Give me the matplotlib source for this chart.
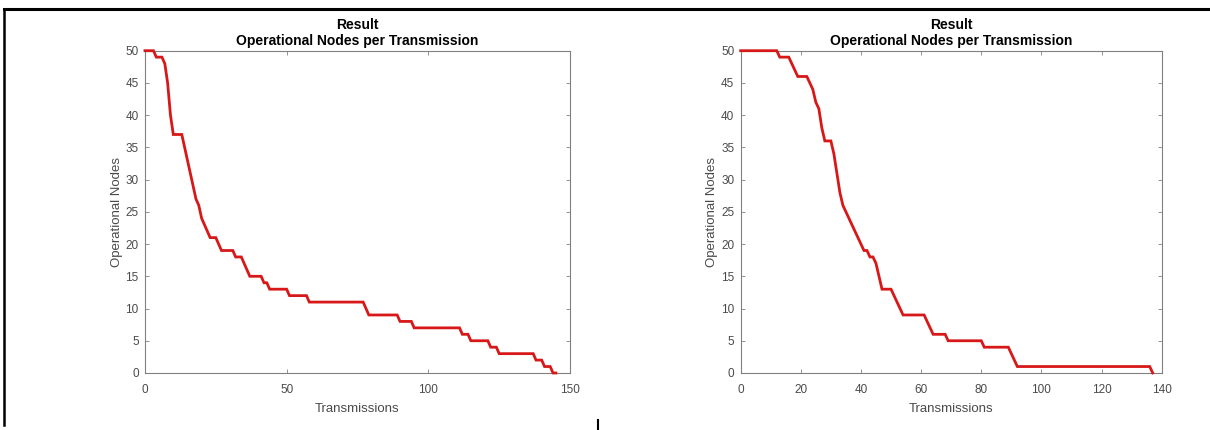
"""
Two-panel 'Operational Nodes per Transmission' result figure.
Output: out.png
"""
import matplotlib.pyplot as plt
from matplotlib.lines import Line2D

OUT = "out.png"

# left run: breakpoints of the (transmission, nodes alive) curve
left_t = [0, 3, 4, 6, 7, 8, 9, 10, 13, 14, 15, 16, 17, 18, 19, 20, 21, 22, 23,
          25, 26, 27, 31, 32, 34, 35, 36, 37, 41, 42, 43, 44, 50, 51, 57, 58,
          77, 78, 79, 89, 90, 94, 95, 111, 112, 114, 115, 121, 122, 124, 125,
          137, 138, 140, 141, 143, 144, 145]
left_nodes = [50, 50, 49, 49, 48, 45, 40, 37, 37, 35, 33, 31, 29, 27, 26, 24,
              23, 22, 21, 21, 20, 19, 19, 18, 18, 17, 16, 15, 15, 14, 14, 13,
              13, 12, 12, 11, 11, 10, 9, 9, 8, 8, 7, 7, 6, 6, 5, 5, 4, 4, 3,
              3, 2, 2, 1, 1, 0, 0]

# right run
right_t = [0, 12, 13, 16, 17, 18, 19, 22, 23, 24, 25, 26, 27, 28, 30, 31, 32,
           33, 34, 35, 36, 37, 38, 39, 40, 41, 42, 43, 44, 45, 46, 47, 50, 51,
           52, 53, 54, 61, 62, 63, 64, 68, 69, 80, 81, 89, 90, 91, 92, 136, 137]
right_nodes = [50, 50, 49, 49, 48, 47, 46, 46, 45, 44, 42, 41, 38, 36, 36, 34,
               31, 28, 26, 25, 24, 23, 22, 21, 20, 19, 19, 18, 18, 17, 15, 13,
               13, 12, 11, 10, 9, 9, 8, 7, 6, 6, 5, 5, 4, 4, 3, 2, 1, 1, 0]

left_xticks = [0, 50, 100, 150]
right_xticks = [0, 20, 40, 60, 80, 100, 120, 140]
yticks = list(range(0, 55, 5))

plt.rcParams["font.family"] = ["Liberation Sans", "DejaVu Sans"]

GREY = "#808080"
TXT = "#4a4a4a"


def panel(ax, t, nodes, xmax, xticks):
    ax.plot(t, nodes, color="#d81818", linewidth=2.0, solid_joinstyle="miter",
            clip_on=False, zorder=3)
    ax.set_xlim(0, xmax)
    ax.set_ylim(0, 50)
    ax.set_xticks(xticks)
    ax.set_yticks(yticks)
    ax.tick_params(direction="in", length=3, width=0.6, colors=GREY,
                   labelcolor=TXT, labelsize=8.5, top=True, right=True)
    ax.tick_params(axis="x", pad=8)
    ax.tick_params(axis="y", pad=4.5)
    for s in ax.spines.values():
        s.set_color(GREY)
        s.set_linewidth(0.8)
    ax.set_title("Result\nOperational Nodes per Transmission",
                 fontsize=10, fontweight="bold", pad=4, linespacing=1.2)
    ax.set_xlabel("Transmissions", fontsize=9.5, color=TXT, labelpad=5)
    ax.set_ylabel("Operational Nodes", fontsize=9.5, color=TXT, labelpad=2)


def main():
    fig = plt.figure(figsize=(12.1, 4.3), dpi=100)
    ax1 = fig.add_axes([0.1198, 0.1326, 0.3513, 0.7495])
    ax2 = fig.add_axes([0.6121, 0.1326, 0.3480, 0.7495])
    panel(ax1, left_t, left_nodes, 150, left_xticks)
    panel(ax2, right_t, right_nodes, 140, right_xticks)

    # page frame (top rule, left rule, small mark at bottom)
    fig.add_artist(Line2D([4 / 1210, 1], [1 - 9 / 430] * 2, color="black",
                          linewidth=2.2, transform=fig.transFigure))
    fig.add_artist(Line2D([4 / 1210] * 2, [1 - 9 / 430, 1 - 425 / 430],
                          color="black", linewidth=1.8,
                          transform=fig.transFigure))
    fig.add_artist(Line2D([598 / 1210] * 2, [0, 1 - 420 / 430],
                          color="black", linewidth=1.5,
                          transform=fig.transFigure))

    fig.savefig(OUT, dpi=100, facecolor="white")


if __name__ == "__main__":
    main()
